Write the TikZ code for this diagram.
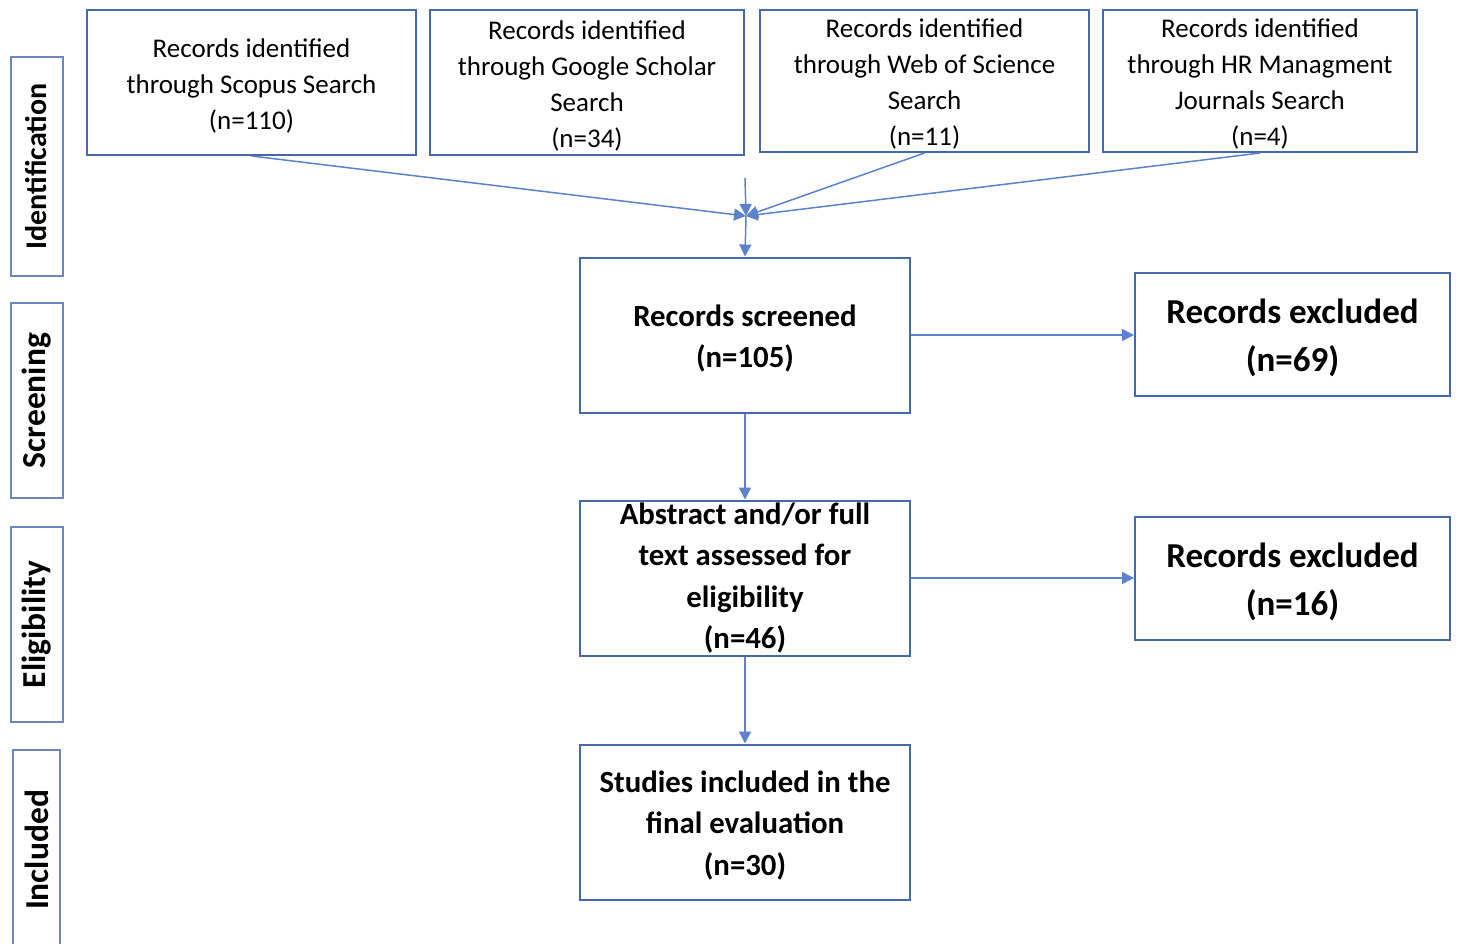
\documentclass[tikz,border=0pt]{standalone}
\usepackage{fontspec}
\setmainfont{Carlito}
\usepackage{xcolor}
\usetikzlibrary{arrows.meta,positioning,calc}
\definecolor{boxblue}{RGB}{72,104,172}
\definecolor{flowblue}{RGB}{92,130,206}
% taller first line, to sit the text a little lower in its box
\newcommand{\lift}{\rule{0pt}{0.92em}}
\begin{document}
\begin{tikzpicture}[
    x=1pt, y=-1pt,
    srcbox/.style={rectangle, draw=boxblue, line width=2pt, inner sep=0pt, align=center, font=\fontsize{27}{36}\selectfont},
    mainbox/.style={rectangle, draw=boxblue, line width=2pt, inner sep=0pt, align=center, minimum width=330pt, minimum height=155pt, font=\fontsize{30.8}{41.5}\selectfont\bfseries},
    exclbox/.style={rectangle, draw=boxblue, line width=2pt, inner sep=0pt, align=center, minimum width=315pt, minimum height=123pt, font=\fontsize{35}{48}\selectfont\bfseries},
    phase/.style={rectangle, draw=boxblue!80, line width=2pt, inner sep=0pt, rotate=90, minimum height=52pt, font=\fontsize{33.5}{36}\selectfont\bfseries},
    flow/.style={-{Triangle[length=12pt,width=12pt]}, line width=1.5pt, flowblue}
]
    \useasboundingbox (0,0) rectangle (1461,943);

    % Phase labels
    \node[phase, minimum width=219pt, font=\fontsize{30}{36}\selectfont\bfseries] (ident) at (36.5,166.5) {Identification};
    \node[phase, minimum width=195pt] (screen) at (37,400.5) {Screening};
    \node[phase, minimum width=195pt] (elig) at (37,624.5) {Eligibility};
    \node[phase, minimum width=200pt, minimum height=47pt] (incl) at (36.5,850) {Included};

    % Sources
    \node[srcbox, minimum width=329pt, minimum height=145pt] (scopus) at (251.5,82.5) {\lift Records identified\\through Scopus Search\\(n=110)};
    \node[srcbox, minimum width=314pt, minimum height=145pt] (google) at (587,82.5) {\lift Records identified\\through Google Scholar\\Search\\(n=34)};
    \node[srcbox, minimum width=329pt, minimum height=142pt] (wos) at (924.5,81) {\lift Records identified\\through Web of Science\\Search\\(n=11)};
    \node[srcbox, minimum width=314pt, minimum height=142pt] (hr) at (1260,81) {\lift Records identified\\through HR Managment\\Journals Search\\(n=4)};

    % Main flow
    \node[mainbox] (screened) at (745,335) {\lift Records screened\\(n=105)};
    \node[mainbox] (abstract) at (745,578) {Abstract and/or full\\text assessed for\\eligibility\\(n=46)};
    \node[mainbox] (studies) at (745,822) {\lift Studies included in the\\final evaluation\\(n=30)};

    % Exclusions
    \node[exclbox] (excl1) at (1292.5,334.5) {\lift Records excluded\\(n=69)};
    \node[exclbox] (excl2) at (1292.5,578.5) {\lift Records excluded\\(n=16)};

    % Merge of the searches
    \coordinate (merge) at (746,216);
    \coordinate (gstart) at (745,178);
    \draw[flow] (scopus.south) -- (merge);
    \draw[flow] (gstart) -- (merge);
    \draw[flow] (wos.south) -- (merge);
    \draw[flow] (hr.south) -- (merge);
    \draw[flow] (merge) -- (screened.north);

    % Arrows
    \draw[flow] (screened) -- (abstract);
    \draw[flow] (abstract) -- (studies);
    \draw[flow] (screened.east) -- (screened.east -| excl1.west);
    \draw[flow] (abstract.east) -- (abstract.east -| excl2.west);
\end{tikzpicture}
\end{document}
